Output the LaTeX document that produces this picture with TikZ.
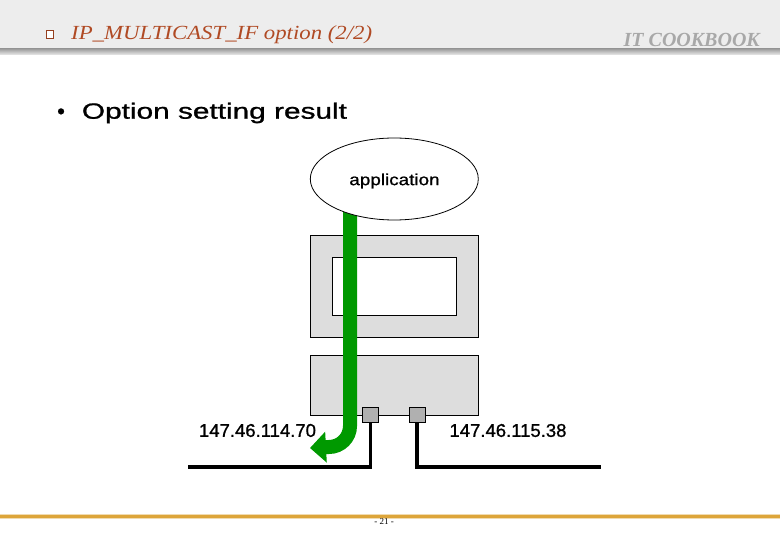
\documentclass[tikz,border=0pt]{standalone}
\usepackage{fontspec}
\usepackage{graphicx}
\setmainfont{Liberation Serif}
\setsansfont{Liberation Sans}
\newfontfamily\gulim{Liberation Sans}[FakeBold=0.9]
\usetikzlibrary{shapes.geometric,arrows.meta}
\definecolor{hdrgray}{HTML}{EDEDED}
\definecolor{titlered}{HTML}{B04A24}
\definecolor{logogray}{HTML}{A8A8A8}
\definecolor{boxgray}{HTML}{DDDDDD}
\definecolor{portgray}{HTML}{B0B0B0}
\definecolor{arrowgreen}{HTML}{009900}
\definecolor{footorange}{HTML}{DDA53A}
\tikzset{
  hostbox/.style={draw=black,line width=0.9pt,fill=boxgray,inner sep=0pt,minimum width=168pt},
  screenbox/.style={draw=black,line width=0.9pt,fill=white,inner sep=0pt,minimum width=124pt,minimum height=58pt},
  portbox/.style={draw=black,line width=0.8pt,fill=portgray,inner sep=0pt,minimum width=16pt,minimum height=15pt},
  wire/.style={line width=3.4pt,draw=black},
  iplabel/.style={font=\gulim\fontsize{18.5}{20}\selectfont,inner sep=0pt},
  greenflow/.style={draw=arrowgreen,line width=14pt,-{Triangle[length=16pt,width=30pt]}}
}
\begin{document}
\begin{tikzpicture}[x=1pt,y=1pt]
\useasboundingbox (0,0) rectangle (780,-540);
\fill[white] (0,0) rectangle (780,-540);
% header
\fill[hdrgray] (0,0) rectangle (780,-49);
\shade[top color=gray!75,bottom color=gray!15] (0,-49) rectangle (780,-55);
\node[draw=titlered!85!black,fill=white,line width=1.2pt,minimum width=7.5pt,minimum height=7.5pt,inner sep=0pt] (chk) at (50,-34.5) {};
\node[anchor=west,inner sep=0pt,text=titlered,font=\itshape\fontsize{20}{22}\selectfont] (title) at (71,-35) {\scalebox{1.14}[1]{IP\_MULTICAST\_IF option (2/2)}};
\node[anchor=east,inner sep=0pt,text=logogray,font=\bfseries\itshape\fontsize{20}{22}\selectfont] (logo) at (760,-40) {IT COOKBOOK};
% bullet
\node[anchor=west,inner sep=0pt,font=\gulim\fontsize{22}{24}\selectfont] (bullet) at (57,-113) {\textbullet\hspace{17pt}\scalebox{1.355}[1]{Option setting result}};
% host
\node[hostbox,minimum height=102pt] (host1) at (394,-286) {};
\node[screenbox] (screen) at (394,-286) {};
\node[hostbox,minimum height=60pt] (host2) at (394,-385) {};
% wires
\node[portbox] (p1) at (370.5,-414.5) {};
\node[portbox] (p2) at (417,-415) {};
\coordinate (w1) at (188,-467);
\coordinate (w2) at (601,-467);
\draw[wire] (p1.south) |- (w1);
\draw[wire] (p2.south) |- (w2);
\node[portbox] at (p1) {};
\node[portbox] at (p2) {};
% green arrow
\coordinate (gtop) at (350,-205);
\coordinate (gend) at (310,-448);
\draw[greenflow] (gtop) -- (350,-426) arc[start angle=0,end angle=-90,radius=21] -- (gend);
% application
\node[draw=black,fill=white,line width=0.8pt,ellipse,minimum width=168pt,minimum height=82pt,inner sep=0pt] (app) at (394.3,-179) {};
\node[inner sep=0pt,font=\gulim\fontsize{16}{18}\selectfont] (applbl) at (394.5,-181) {\scalebox{1.18}[1]{application}};
% labels
\node[iplabel] (ip1) at (257.5,-430.5) {147.46.114.70};
\node[iplabel] (ip2) at (508,-430.5) {147.46.115.38};
% footer
\draw[footorange!40,line width=5pt] (0,-516) -- (780,-516);
\draw[footorange,line width=3pt] (0,-516) -- (780,-516);
\node[inner sep=0pt,font=\fontsize{9}{10}\selectfont] (page) at (384,-522) {- 21 -};
\end{tikzpicture}
\end{document}
